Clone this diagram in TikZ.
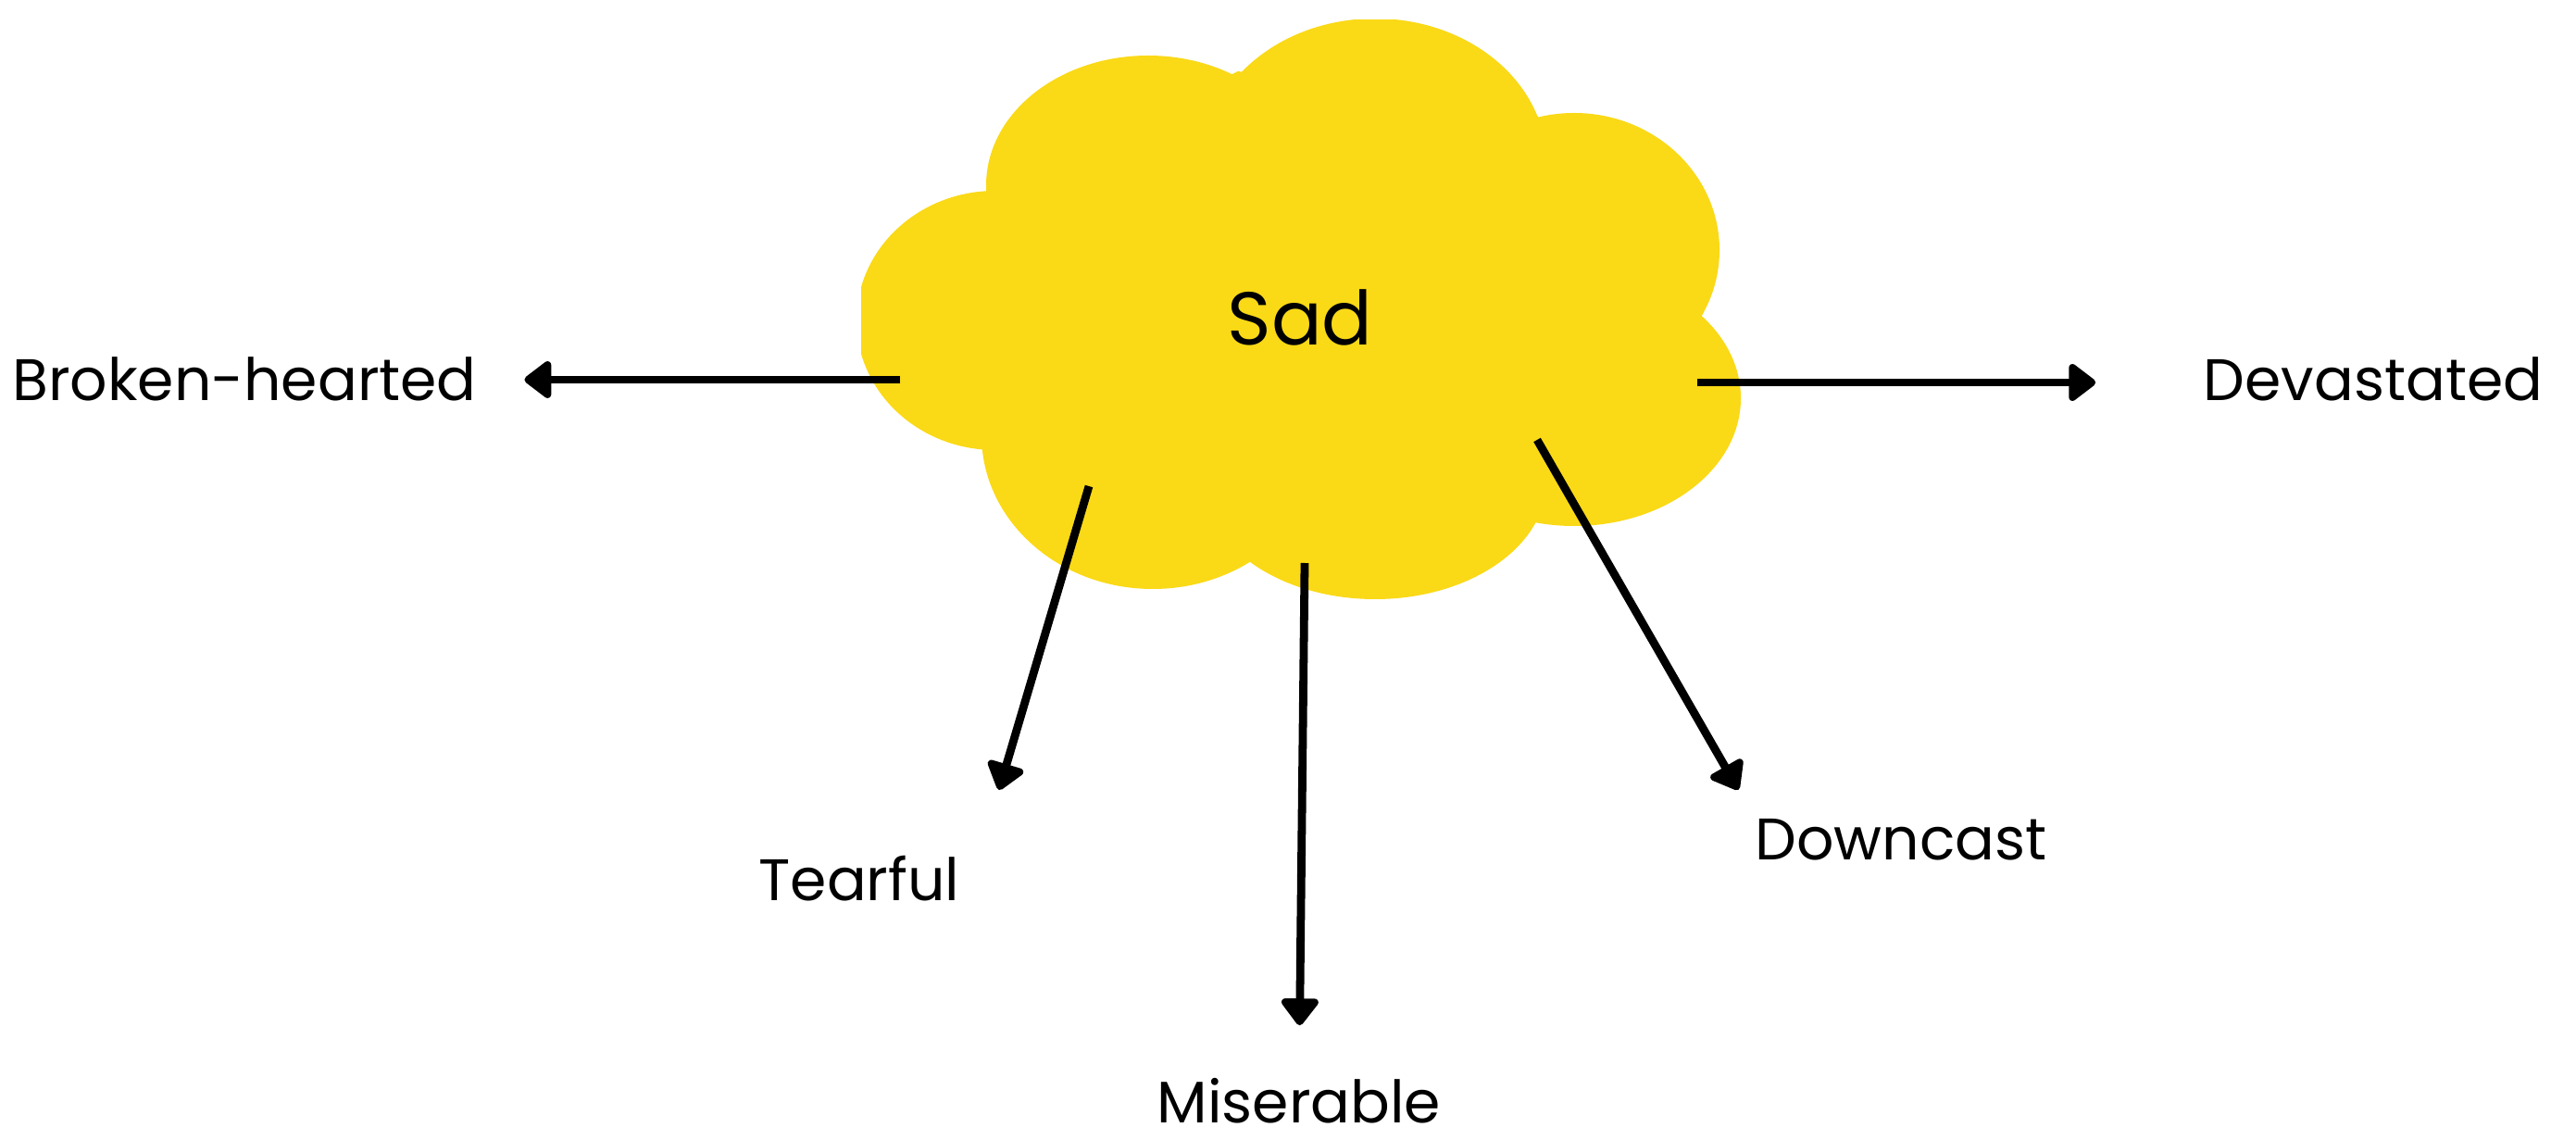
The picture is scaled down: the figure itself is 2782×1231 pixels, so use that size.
\documentclass[tikz,border=0pt]{standalone}
\usepackage{fontspec}
\setmainfont{Poppins}
\usetikzlibrary{arrows.meta,positioning,calc}
\definecolor{cloudyellow}{HTML}{FAD917}

\begin{document}
\begin{tikzpicture}[x=0.01cm, y=-0.01cm,
  feeling/.style={font=\fontsize{18}{22}\selectfont, inner sep=0pt, anchor=base},
  link/.style={-{Triangle[round, length=9pt, width=13pt]}, line width=2.5pt}]

\useasboundingbox (0,0) rectangle (2782,1231);

% Cloud
\begin{scope}
  \clip (930,22) rectangle (1900,700);
  \fill[cloudyellow] (1075,346) ellipse [x radius=150, y radius=140];
  \fill[cloudyellow] (1240,200) ellipse [x radius=175, y radius=140];
  \fill[cloudyellow] (1485,175) ellipse [x radius=185, y radius=155];
  \fill[cloudyellow] (1700,270) ellipse [x radius=157, y radius=148];
  \fill[cloudyellow] (1700,430) ellipse [x radius=180, y radius=138];
  \fill[cloudyellow] (1485,520) ellipse [x radius=185, y radius=127];
  \fill[cloudyellow] (1245,470) ellipse [x radius=185, y radius=166];
  \fill[cloudyellow] (1065,207) -- (1337,77) -- (1660,125) -- (1839,330)
    -- (1654,565) -- (1360,607) -- (1062,485) -- cycle;
\end{scope}

% Centre word
\node[font=\fontsize{23}{27}\selectfont, inner sep=0pt, anchor=base] (sad) at (1404,373) {Sad};

% Feelings
\node[feeling] (broken) at (264,433) {Broken-hearted};
\node[feeling] (devast) at (2563,433) {Devastated};
\node[feeling] (tearful) at (928,972) {Tearful};
\node[feeling] (miser) at (1403,1212) {Miserable};
\node[feeling] (downcast) at (2053,928) {Downcast};

% Arrow starts inside the cloud
\coordinate (from-broken) at (972,410);
\coordinate (from-devast) at (1833,413);
\coordinate (from-tearful) at (1176,525);
\coordinate (from-miser) at (1409,608);
\coordinate (from-downcast) at (1660,475);

% Arrows
\draw[link, shorten >=0.51cm] (from-broken) -- (from-broken -| broken.east);
\draw[link, shorten >=1.16cm] (from-devast) -- (from-devast -| devast.west);
\draw[link, shorten >=0.73cm] (from-tearful) -- ([xshift=0.21cm]tearful.north east);
\draw[link, shorten >=0.56cm] (from-miser) -- (miser.north);
\draw[link, shorten >=0.35cm] (from-downcast) -- (downcast.north west);

\end{tikzpicture}
\end{document}
